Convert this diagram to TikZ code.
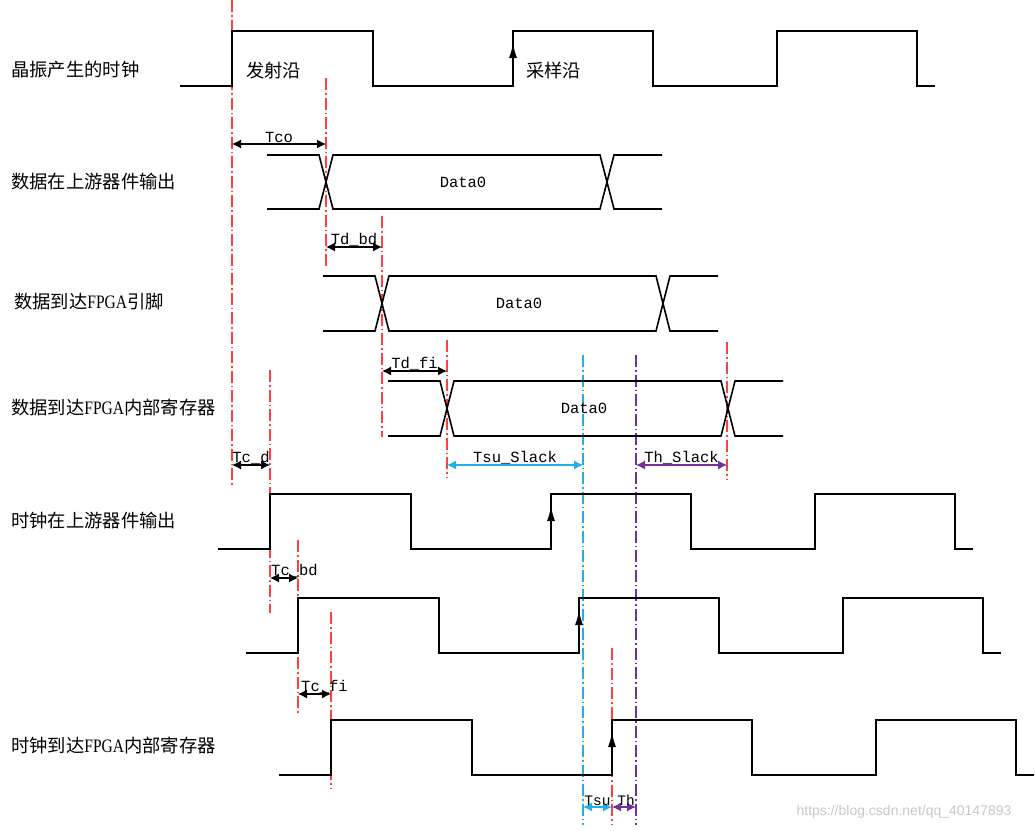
\documentclass[tikz,border=0pt]{standalone}
\usepackage{fontspec}
\usepackage{graphicx}
\setmainfont{Liberation Serif}
\setsansfont{Liberation Sans}
\setmonofont{Liberation Mono}
\newfontfamily\cjk{Noto Sans CJK SC}
\usetikzlibrary{arrows.meta, calc}

\definecolor{tred}{RGB}{255,64,64}
\definecolor{tcyan}{RGB}{30,176,235}
\definecolor{tpurple}{RGB}{112,48,160}

\newcommand{\fpga}{{\rmfamily\fontsize{19}{19}\selectfont\scalebox{0.82}[1]{FPGA}}}

\tikzset{
	sig/.style={line width=1.6pt},
	redline/.style={tred, line width=1.2pt, dash pattern=on 12pt off 3pt on 1.5pt off 3pt},
	cyanline/.style={redline, tcyan},
	purpleline/.style={redline, tpurple},
	dim/.style={{Latex[length=9pt,width=9pt]}-{Latex[length=9pt,width=9pt]}, line width=1.2pt},
	rowlbl/.style={font=\cjk\fontsize{18.3}{18.3}\selectfont, anchor=west, inner sep=0pt},
	tlbl/.style={font=\ttfamily\fontsize{15.5}{15.5}\selectfont, inner sep=1pt},
	slbl/.style={font=\ttfamily\fontsize{14.5}{14.5}\selectfont, inner sep=1pt}
}

\begin{document}
\begin{tikzpicture}[x=1pt, y=-1pt]
	\useasboundingbox (0,0) rectangle (1035,830);

	\node[rowlbl] (osc) at (11,70) {晶振产生的时钟};
	\node[rowlbl] (dout) at (11,182) {数据在上游器件输出};
	\node[rowlbl] (dpin) at (14,302) {数据到达\fpga 引脚};
	\node[rowlbl] (dreg) at (11,408) {数据到达\fpga 内部寄存器};
	\node[rowlbl] (cout) at (11,521) {时钟在上游器件输出};
	\node[rowlbl] (creg) at (11,745) {时钟到达\fpga 内部寄存器};

	\begin{scope}
		\foreach \x/\a/\b in {232/0/486, 326/78/268, 382/216/437, 447/340/478, 727/342/480, 270/370/613, 298/540/715, 331/612/788, 612/648/825}
			\draw[redline] (\x,\a) -- (\x,\b);
		\draw[cyanline] (583,355) -- (583,825);
		\draw[purpleline] (636,355) -- (636,825);
	\end{scope}

	\begin{scope}
		\foreach \r/\h/\l in {232/31/86, 270/494/549, 298/598/653, 331/720/775} {
			\draw[sig] ({\r-52},\l) -- (\r,\l) |- ({\r+141},\h) |- ({\r+281},\l) |- ({\r+421},\h) |- ({\r+545},\l) |- ({\r+685},\h) |- ({\r+703},\l);
			\draw[sig, -{Latex[length=15pt,width=8pt]}] ({\r+281},\l) -- ({\r+281},\h+12);
		}
		\node[rowlbl] (launch) at (246,71) {发射沿};
		\node[rowlbl] (latch) at (526,71) {采样沿};
	\end{scope}

	\begin{scope}
		\foreach \c/\t/\b [count=\i] in {326/155/209, 382/276/331, 447/381/436} {
			\draw[sig] ({\c-59},\t) -- ({\c-7},\t) -- ({\c+7},\b) -- ({\c+274},\b) -- ({\c+288},\t) -- ({\c+336},\t);
			\draw[sig] ({\c-59},\b) -- ({\c-7},\b) -- ({\c+7},\t) -- ({\c+274},\t) -- ({\c+288},\b) -- ({\c+336},\b);
			\node[tlbl] (data\i) at ({\c+137},{(\t+\b)/2}) {Data0};
		}
	\end{scope}

	\begin{scope}
		\foreach \a/\b/\y/\t/\c [count=\i] in {232/326/144/Tco/black, 326/382/247/Td\_bd/black, 382/447/371/Td\_fi/black, 232/270/465/Tc\_d/black, 447/583/465/Tsu\_Slack/tcyan, 636/727/465/Th\_Slack/tpurple} {
			\coordinate (d\i-l) at (\a,\y);
			\coordinate (d\i-r) at (\b,\y);
			\draw[dim, \c] (d\i-l) -- (d\i-r);
			\node[tlbl, above] (dl\i) at ($(d\i-l)!0.5!(d\i-r)$) {\t};
		}
		\draw[dim] (270,578) coordinate (tcbd-l) -- (298,578) coordinate (tcbd-r);
		\node[tlbl, anchor=south west] (tcbd) at (tcbd-l) {Tc\_bd};
		\draw[dim] (298,694) coordinate (tcfi-l) -- (331,694) coordinate (tcfi-r);
		\node[tlbl, anchor=south west] (tcfi) at ([xshift=2pt]tcfi-l) {Tc\_fi};
		\draw[dim, tcyan] (583,807) coordinate (tsu-l) -- (612,807) coordinate (tsu-r);
		\node[slbl, above] (tsu) at ($(tsu-l)!0.5!(tsu-r)$) {Tsu};
		\draw[dim, tpurple] (612,807) coordinate (th-l) -- (636,807) coordinate (th-r);
		\node[slbl, above] (th) at ([xshift=2pt]$(th-l)!0.5!(th-r)$) {Th};
	\end{scope}

	\node[font=\sffamily\fontsize{14}{14}\selectfont, text=black!22] (wm) at (904,812) {https://blog.csdn.net/qq\_40147893};
\end{tikzpicture}
\end{document}
